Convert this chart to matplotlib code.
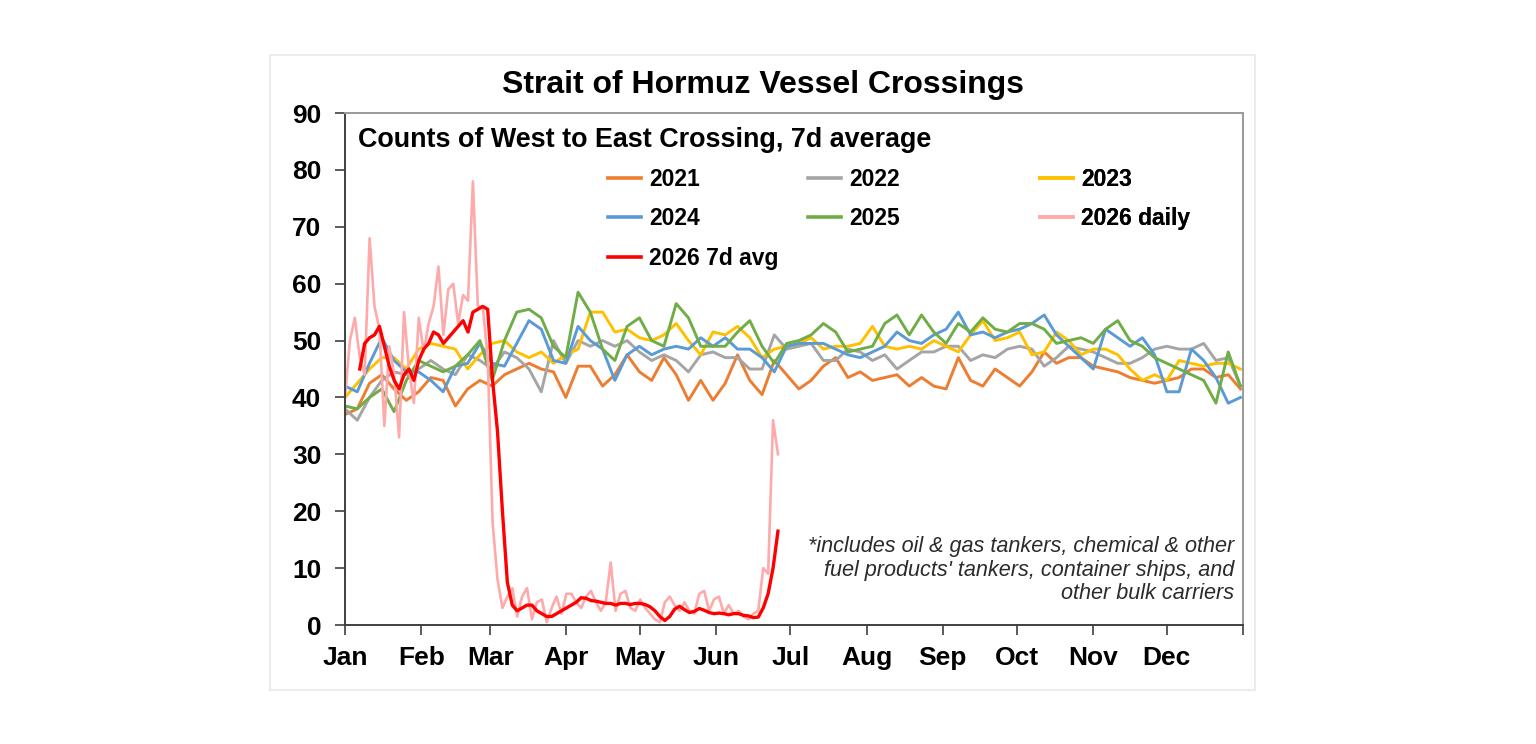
import pandas as pd
import matplotlib.pyplot as plt
import matplotlib.dates as mdates
from matplotlib.patches import Rectangle

plt.rcParams['font.family'] = ['Liberation Sans', 'DejaVu Sans']

# Step 1: West->East crossings, 7d average, every 5 days (Jan 1 .. Dec 31)
y2021 = [37, 38, 42.5, 44, 41.5, 39.5, 41, 43.5, 43, 38.5, 41.5, 43, 42, 44, 45, 46, 45, 44.5, 40,
         45.5, 45.5, 42, 44, 47.5, 44.5, 43, 47, 44, 39.5, 43, 39.5, 42.5, 47.5, 43, 40.5, 46.5, 44,
         41.5, 43, 45.5, 47, 43.5, 44.5, 43, 43.5, 44, 42, 43.5, 42, 41.5, 47, 43, 42, 45, 43.5, 42,
         44.5, 48, 46, 47, 47, 45.5, 45, 44.5, 43.5, 43, 42.5, 43, 43.5, 45, 45, 43.5, 44, 41.5]
y2022 = [38, 36, 40, 43, 44.5, 44, 45, 46.5, 45, 44, 47.5, 46.5, 45, 48, 47, 45, 41, 50, 46, 50,
         49, 50, 49, 50, 48, 46.5, 47.5, 46.5, 44.5, 47.5, 48, 47, 47, 45, 45, 51, 48.5, 49, 49.5,
         46.5, 46.5, 48.5, 48, 46.5, 47.5, 45, 46.5, 48, 48, 49, 49, 46.5, 47.5, 47, 48.5, 49, 48.5,
         45.5, 47, 49, 48.5, 48, 47, 46, 46, 47, 48.5, 49, 48.5, 48.5, 49.5, 46.5, 47, 42]
y2023 = [40, 42.5, 45, 47, 47, 45, 48.5, 49.5, 49, 48.5, 45, 47.5, 49.5, 50, 48, 47, 48, 46, 47.5,
         48.5, 55, 55, 51.5, 52, 50.5, 50, 51, 53, 50, 47.5, 51.5, 51, 52.5, 50.5, 47, 48.5, 49, 49.5,
         50.5, 48.5, 49, 49, 49.5, 52.5, 49, 48.5, 49, 48.5, 50, 49, 48, 51, 53.5, 50, 50.5, 51.5,
         47.5, 48, 51.5, 50, 47.5, 48.5, 48.5, 47.5, 45, 43, 44, 43, 46.5, 46, 45.5, 46, 46, 45]
y2024 = [42, 41, 46, 50.5, 46.5, 44.5, 44.5, 43, 41, 45.5, 46, 49.5, 46, 45.5, 49.5, 53.5, 52, 46.5,
         46, 52.5, 50, 48.5, 43, 47.5, 49, 47.5, 48.5, 49, 48.5, 50.5, 49, 50.5, 48.5, 48.5, 47, 44.5,
         49, 49.5, 49.5, 49.5, 48.5, 47.5, 47, 48, 49, 51.5, 50, 49.5, 51, 52, 55, 51, 51.5, 50.5,
         51.5, 52, 53, 54.5, 51, 49, 47, 45, 52, 50.5, 49, 50.5, 47.5, 41, 41, 48.5, 46.5, 43.5, 39, 40]
y2025 = [38.5, 38, 40, 41.5, 37.5, 43, 46.5, 45.5, 44.5, 45.5, 47.5, 50, 43, 50, 55, 55.5, 54, 49, 47,
         58.5, 55, 48.5, 46.5, 52.5, 54, 50, 49, 56.5, 54, 49, 49, 49, 51.5, 53.5, 49, 46, 49.5, 50,
         51, 53, 51.5, 48, 48.5, 49, 53, 54.5, 51, 54.5, 51.5, 49.5, 53, 51.5, 54, 52, 51.5, 53, 53,
         52, 49.5, 50, 50.5, 49.5, 52, 53.5, 50, 49, 47, 46, 45, 44, 43, 39, 48, 42]

# 2026 daily counts, every 2nd day from Jan 1, and the 7d average (starts on day 6)
daily_2026 = [40, 50, 54, 47, 44, 68, 56, 52, 35, 49, 44, 33, 55, 45, 39, 54, 48, 53, 56, 63, 51, 59,
              60, 53, 58, 57, 78, 56, 56, 47, 18, 8, 3, 5, 6.5, 1.5, 5, 6.5, 1, 4, 4.5, 0.5, 3, 5, 2,
              5.5, 5.5, 4, 3, 5, 6, 4, 2.5, 4, 11, 2.5, 5.5, 6, 3, 2.5, 4.5, 3, 2, 1, 0.5, 4, 5, 3.5,
              2.5, 4, 2.5, 2, 5.5, 6, 2.5, 4.5, 5, 2, 3.5, 2, 2.5, 1.5, 1, 2, 2.5, 10, 9, 36, 30]
avg_2026 = [45, 49.5, 50.5, 51, 52.5, 49, 45.5, 43, 41.5, 44, 45, 43, 46.5, 48.5, 49.5, 51.5, 51,
            49.5, 50.5, 51.5, 52.5, 53.5, 51.5, 55, 55.5, 56, 55.5, 43, 34, 20, 7.5, 3.5, 2.5, 3,
            3.5, 3.5, 2.5, 2, 1.5, 1.5, 2, 2.5, 3, 3.5, 4, 4.8, 4.7, 4.3, 4.2, 4, 3.8, 3.8, 3.5,
            3.8, 3.8, 3.6, 3.8, 3.8, 3.6, 3.2, 2.5, 1.5, 0.8, 1.5, 2.8, 3.3, 2.7, 2.2, 2.4, 2.9,
            2.6, 2.2, 2, 2.1, 2, 1.8, 2, 2, 1.7, 1.6, 1.3, 1.4, 3, 5.5, 10, 16.5]

month_labels = ['Jan', 'Feb', 'Mar', 'Apr', 'May', 'Jun', 'Jul', 'Aug', 'Sep', 'Oct', 'Nov', 'Dec']

# Step 2: put everything on a common (dummy) calendar year
year_dates = pd.date_range('2026-01-01', '2026-12-31', periods=len(y2021))
dates_2026 = pd.date_range('2026-01-01', periods=len(daily_2026), freq='2D')
avg_dates = dates_2026[len(daily_2026) - len(avg_2026):]

# Step 3: draw the chart
fig = plt.figure(figsize=(15.36, 7.44), dpi=100)
fig.patches.append(Rectangle((270 / 1536, 1 - 690 / 744), 985 / 1536, 635 / 744,
                             transform=fig.transFigure, fill=False, edgecolor='#ececec', lw=1.5))
ax = fig.add_axes([0.2246, 0.1599, 0.5846, 0.6882])

lines = {}
lines['2021'], = ax.plot(year_dates, y2021, color='#ED7D31', lw=2.1)
lines['2022'], = ax.plot(year_dates, y2022, color='#A5A5A5', lw=2.1)
lines['2023'], = ax.plot(year_dates, y2023, color='#FFC000', lw=2.1)
lines['2024'], = ax.plot(year_dates, y2024, color='#5B9BD5', lw=2.1)
lines['2025'], = ax.plot(year_dates, y2025, color='#70AD47', lw=2.1)
lines['2026 daily'], = ax.plot(dates_2026, daily_2026, color='#FFAAAA', lw=1.9)
lines['2026 7d avg'], = ax.plot(avg_dates, avg_2026, color='#FF0000', lw=2.4)

ax.set_xlim(pd.Timestamp('2026-01-01'), pd.Timestamp('2027-01-01'))
ax.set_ylim(0, 90)
ax.set_yticks(range(0, 91, 10))
ax.xaxis.set_major_locator(mdates.MonthLocator())
ax.set_xticks(list(pd.date_range('2026-01-01', periods=13, freq='MS')))
ax.set_xticklabels(month_labels + [''])
ax.tick_params(axis='both', direction='out', length=7, width=1.2, colors='#404040',
               labelcolor='black', labelsize=19)
ax.tick_params(axis='x', pad=8)
ax.tick_params(axis='y', pad=10)
for lab in ax.get_xticklabels() + ax.get_yticklabels():
    lab.set_fontweight('bold')

for side in ['left', 'bottom']:
    ax.spines[side].set_color('#404040')
    ax.spines[side].set_linewidth(1.4)
for side in ['top', 'right']:
    ax.spines[side].set_color('#9a9a9a')
    ax.spines[side].set_linewidth(1.4)

# Step 4: titles and notes
fig.text(0.4967, 0.8858, 'Strait of Hormuz Vessel Crossings', ha='center', va='center',
         fontsize=23, fontweight='bold')
ax.text(0.015, 0.947, 'Counts of West to East Crossing, 7d average', transform=ax.transAxes,
        ha='left', va='center', fontsize=19.4, fontweight='bold')
ax.text(0.990, 0.107, "*includes oil & gas tankers, chemical & other\n"
        "fuel products' tankers, container ships, and\nother bulk carriers",
        transform=ax.transAxes, ha='right', va='center', fontsize=15.6, style='italic',
        color='#2b2b2b', linespacing=1.15)

# Step 5: legend laid out as three equal-width columns
columns = [(0.2929, ['2021', '2024', '2026 7d avg']),
           (0.5156, ['2022', '2025']),
           (0.7740, ['2023', '2026 daily'])]
for x0, names in columns:
    leg = ax.legend([lines[n] for n in names], names, loc='upper left',
                    bbox_to_anchor=(x0, 0.893), frameon=False, borderpad=0, borderaxespad=0,
                    handlelength=1.45, handletextpad=0.35, labelspacing=0.72,
                    prop={'size': 16.5, 'weight': 'bold'})
    for h in leg.legend_handles:
        h.set_linewidth(2.6)
    ax.add_artist(leg)

plt.savefig('out.png', dpi=100, facecolor='white')
